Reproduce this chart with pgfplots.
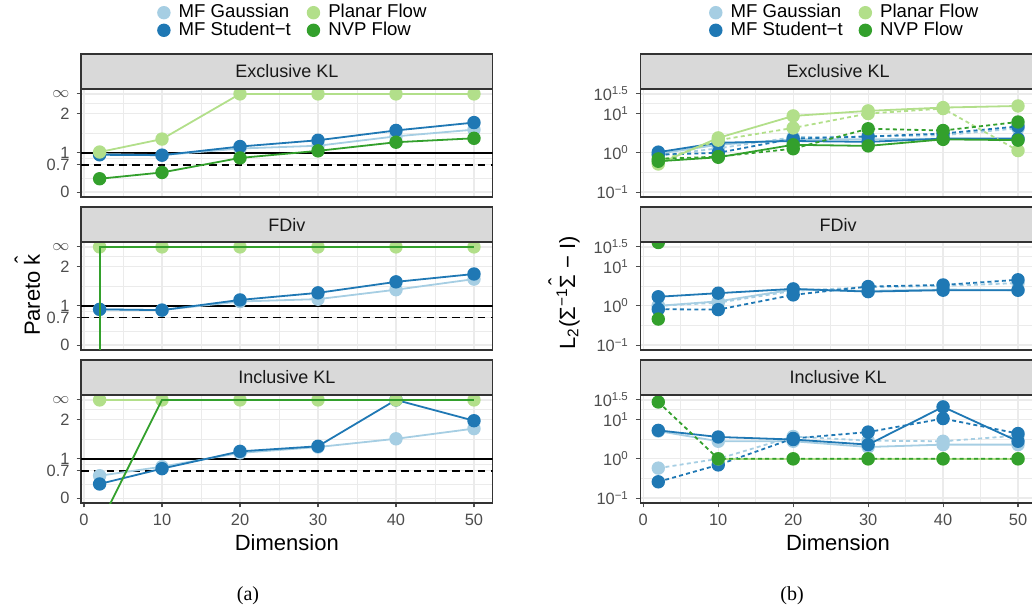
\documentclass[border=0pt]{standalone}
\usepackage{fontspec}
\setmainfont{Liberation Sans}
\newfontfamily\seriffont{Liberation Serif}
\usepackage{pgfplots}
\pgfplotsset{compat=1.18}
\usetikzlibrary{calc}
\definecolor{cLB}{HTML}{A6CEE3}
\definecolor{cDB}{HTML}{1F78B4}
\definecolor{cLG}{HTML}{B2DF8A}
\definecolor{cDG}{HTML}{33A02C}
\definecolor{frameC}{HTML}{333333}
\definecolor{stripC}{HTML}{D9D9D9}
\definecolor{gridC}{HTML}{EBEBEB}
\definecolor{tickC}{HTML}{4D4D4D}
\pgfplotsset{
  panel/.style={
    scale only axis, height=54pt,
    xmin=-0.4, xmax=52.4,
    axis line style={draw=frameC, line width=0.75pt},
    xtick={0,10,20,30,40,50},
    minor xtick={5,15,25,35,45},
    grid=both,
    major grid style={draw=gridC, line width=0.6pt},
    minor grid style={draw=gridC, line width=0.35pt},
    tick align=outside, xtick pos=bottom, ytick pos=left,
    major tick length=2.2pt, minor tick length=0pt,
    tick style={draw=tickC, line width=0.55pt},
    ticklabel style={font=\fontsize{8.2}{9}\selectfont, text=tickC},
    /pgf/number format/assume math mode=true,
    clip marker paths=true,
    every axis plot/.append style={line width=0.9pt},
  },
  lp/.style={panel, width=205.9pt, ymin=-0.125, ymax=2.625,
    ytick={0,0.7,1,2,2.5}, yticklabels={0,0.7,1,2,$\infty$},
    minor ytick={0.35,0.85,1.5,2.25}},
  rp/.style={panel, width=197.85pt, ymin=0.07499, ymax=42.17,
    ytick={0.1,1,10,31.6228},
    yticklabels={10\textsuperscript{−1},10\textsuperscript{0},10\textsuperscript{1},10\textsuperscript{1.5}},
    minor ytick={0.31623,3.1623,17.783}},
  inner/.style={xticklabels={}, xtick style={draw=none}},
  s/.style={color=#1, mark=*, mark size=2.9pt, mark options={solid, fill=#1, draw=none}},
  d/.style={s=#1, dash pattern=on 2pt off 1.6pt},
  leg/.style={
    legend columns=2,
    legend style={at={(#1,1.625)}, anchor=center, draw=none, fill=none,
      font=\fontsize{9.3}{9.3}\selectfont, row sep=-0.8pt,
      nodes={inner sep=0.8pt, text height=6.5pt, text depth=1.5pt},
      /tikz/every even column/.append style={column sep=7.5pt}},
    legend cell align=left,
    legend image code/.code={\path[draw=none, fill=none] (0pt,0pt) -- (9.6pt,0pt); \draw[##1] plot coordinates {(3pt,0pt)};},
  },
}
\newcommand{\legimgs}{%
  \addlegendimage{only marks, mark=*, mark size=2.9pt, cLB, mark options={fill=cLB, draw=none}}
  \addlegendentry{MF Gaussian}
  \addlegendimage{only marks, mark=*, mark size=2.9pt, cLG, mark options={fill=cLG, draw=none}}
  \addlegendentry{Planar Flow}
  \addlegendimage{only marks, mark=*, mark size=2.9pt, cDB, mark options={fill=cDB, draw=none}}
  \addlegendentry{MF Student−t}
  \addlegendimage{only marks, mark=*, mark size=2.9pt, cDG, mark options={fill=cDG, draw=none}}
  \addlegendentry{NVP Flow}}
\newcommand{\reflines}{%
  \addplot[black, line width=0.9pt, forget plot] coordinates {(-0.4,1) (52.4,1)};
  \addplot[black, line width=0.9pt, dash pattern=on 3.8pt off 2.6pt, forget plot] coordinates {(-0.4,0.7) (52.4,0.7)};}
\newcommand{\strip}[2]{%
  \fill[stripC] (#1.north west) rectangle ([yshift=17.5pt]#1.north east);
  \draw[frameC, line width=0.75pt] (#1.north west) rectangle ([yshift=17.5pt]#1.north east);
  \node[font=\fontsize{9}{9}\selectfont, text=black!90, anchor=center] at ([yshift=8.75pt]$(#1.north west)!0.5!(#1.north east)$) {#2};}
\begin{document}
\begin{tikzpicture}
% ---------------- (a) left ----------------
\begin{axis}[lp, inner, name=a1, anchor=south west, at={(40.45pt,205pt)}, leg=0.515]
\legimgs
\reflines
\addplot[s=cLB, forget plot] coordinates {(2,0.97)(10,0.94)(20,1.11)(30,1.18)(40,1.42)(50,1.59)};
\addplot[s=cDB, forget plot] coordinates {(2,0.95)(10,0.94)(20,1.16)(30,1.32)(40,1.57)(50,1.77)};
\addplot[s=cLG, forget plot] coordinates {(2,1.02)(10,1.35)(20,2.5)(30,2.5)(40,2.5)(50,2.5)};
\addplot[s=cDG, forget plot] coordinates {(2,0.34)(10,0.5)(20,0.87)(30,1.05)(40,1.27)(50,1.37)};
\end{axis}
\begin{axis}[lp, inner, name=a2, anchor=south west, at={(40.45pt,128.5pt)}]
\reflines
\addplot[s=cLB] coordinates {(2,0.91)(10,0.89)(20,1.11)(30,1.17)(40,1.41)(50,1.68)};
\addplot[s=cDB] coordinates {(2,0.91)(10,0.89)(20,1.15)(30,1.33)(40,1.61)(50,1.81)};
\addplot[s=cLG] coordinates {(2,2.5)(10,2.5)(20,2.5)(30,2.5)(40,2.5)(50,2.5)};
\addplot[cDG] coordinates {(2,-20)(2,2.5)(10,2.5)(20,2.5)(30,2.5)(40,2.5)(50,2.5)};
\end{axis}
\begin{axis}[lp, name=a3, anchor=south west, at={(40.45pt,52pt)}]
\reflines
\addplot[s=cLB] coordinates {(2,0.57)(10,0.8)(20,1.15)(30,1.3)(40,1.51)(50,1.77)};
\addplot[s=cDB] coordinates {(2,0.36)(10,0.75)(20,1.19)(30,1.32)(40,2.5)(50,1.97)};
\addplot[s=cLG] coordinates {(2,2.5)(10,2.5)(20,2.5)(30,2.5)(40,2.5)(50,2.5)};
\addplot[cDG] coordinates {(2,-0.68)(10,2.5)(20,2.5)(30,2.5)(40,2.5)(50,2.5)};
\end{axis}
% ---------------- (b) right ----------------
\begin{axis}[ymode=log, rp, inner, name=b1, anchor=south west, at={(320.15pt,205pt)}, leg=0.517]
\legimgs
\addplot[s=cLB, forget plot] coordinates {(2,0.95)(10,1.6)(20,2.2)(30,2.2)(40,2.3)(50,2.2)};
\addplot[d=cLB, forget plot] coordinates {(2,0.85)(10,1.3)(20,2.5)(30,2.6)(40,2.8)(50,4.2)};
\addplot[s=cDB, forget plot] coordinates {(2,1.04)(10,1.8)(20,2.0)(30,1.9)(40,2.3)(50,2.3)};
\addplot[d=cDB, forget plot] coordinates {(2,0.9)(10,1.0)(20,2.3)(30,2.6)(40,3.1)(50,4.7)};
\addplot[s=cLG, forget plot] coordinates {(2,0.52)(10,2.4)(20,8.7)(30,11.7)(40,14.2)(50,15.6)};
\addplot[d=cLG, forget plot] coordinates {(2,0.6)(10,2.1)(20,4.3)(30,10)(40,13.4)(50,1.14)};
\addplot[s=cDG, forget plot] coordinates {(2,0.61)(10,0.77)(20,1.6)(30,1.5)(40,2.2)(50,2.1)};
\addplot[d=cDG, forget plot] coordinates {(2,0.7)(10,0.8)(20,1.27)(30,4.1)(40,3.7)(50,6.1)};
\end{axis}
\begin{axis}[ymode=log, rp, inner, name=b2, anchor=south west, at={(320.15pt,128.5pt)}]
\addplot[s=cLB] coordinates {(2,1.0)(10,1.3)(20,2.6)(30,2.4)(40,2.6)(50,2.5)};
\addplot[d=cLB] coordinates {(2,1.0)(10,1.2)(20,2.4)(30,3.0)(40,3.2)(50,3.8)};
\addplot[s=cDB] coordinates {(2,1.7)(10,2.1)(20,2.7)(30,2.3)(40,2.5)(50,2.5)};
\addplot[d=cDB] coordinates {(2,0.82)(10,0.8)(20,1.9)(30,3.1)(40,3.4)(50,4.6)};
\addplot[s=cDG, only marks] coordinates {(2,41)(2,0.46)};
\end{axis}
\begin{axis}[ymode=log, rp, name=b3, anchor=south west, at={(320.15pt,52pt)}]
\addplot[s=cLB] coordinates {(2,5.1)(10,2.8)(20,2.8)(30,2.0)(40,2.3)(50,2.3)};
\addplot[d=cLB] coordinates {(2,0.58)(10,1.0)(20,3.7)(30,2.9)(40,2.8)(50,3.9)};
\addplot[s=cDB] coordinates {(2,5.3)(10,3.6)(20,3.1)(30,2.3)(40,21)(50,2.8)};
\addplot[d=cDB] coordinates {(2,0.26)(10,0.7)(20,3.3)(30,4.8)(40,10.6)(50,4.4)};
\addplot[s=cLG] coordinates {(10,1)(20,1)(30,1)(40,1)(50,1)};
\addplot[d=cDG] coordinates {(2,28)(10,1)(20,1)(30,1)(40,1)(50,1)};
\end{axis}
% strips
\strip{a1}{Exclusive KL}
\strip{a2}{FDiv}
\strip{a3}{Inclusive KL}
\strip{b1}{Exclusive KL}
\strip{b2}{FDiv}
\strip{b3}{Inclusive KL}
% labels
\node[font=\fontsize{11}{11}\selectfont] at (143.4pt,32pt) {Dimension};
\node[font=\fontsize{11}{11}\selectfont] at (419pt,32pt) {Dimension};
\node[font=\fontsize{11}{11}\selectfont, rotate=90] at (16pt,156pt) {Pareto \ooalign{k\cr\hidewidth\raisebox{0.42em}{ˆ}\hidewidth\cr}};
\node[font=\fontsize{11}{11}\selectfont, rotate=90] at (284pt,157pt) {L\textsubscript{2}(Σ\textsuperscript{−1}\ooalign{Σ\cr\hidewidth\raisebox{0.48em}{ˆ}\hidewidth\cr} − I)};
\node[font=\seriffont\fontsize{10}{10}\selectfont] at (124pt,5.5pt) {(a)};
\node[font=\seriffont\fontsize{10}{10}\selectfont] at (396pt,5.5pt) {(b)};
\pgfresetboundingbox
\path (0pt,0pt) rectangle (516pt,303.5pt);
\end{tikzpicture}
\end{document}
